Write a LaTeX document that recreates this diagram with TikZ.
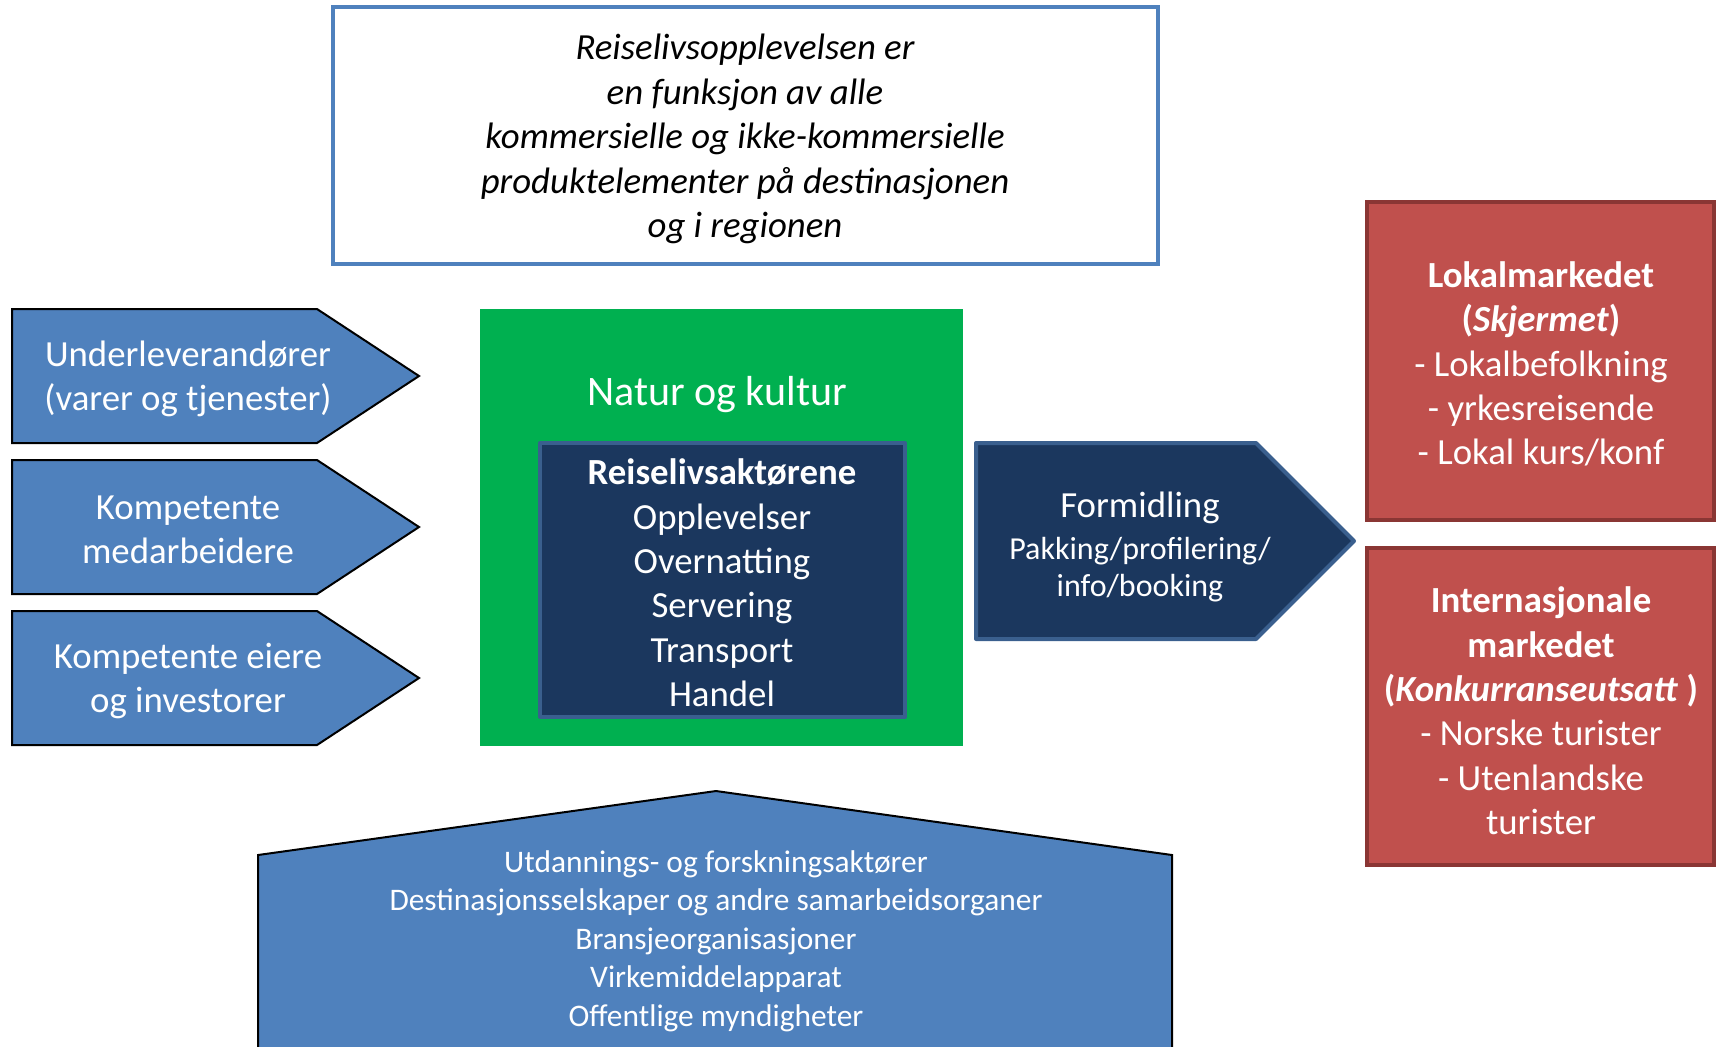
\documentclass[tikz,border=0pt]{standalone}
\usepackage{fontspec}
\setmainfont{Carlito}
\usetikzlibrary{positioning}

\definecolor{pilblaa}{HTML}{4F81BD}
\definecolor{gronn}{HTML}{00B050}
\definecolor{marine}{HTML}{1B375E}
\definecolor{marinekant}{HTML}{3A5F8E}
\definecolor{roed}{HTML}{C0504D}
\definecolor{roedkant}{HTML}{8A3634}

\newcommand{\storskrift}{\fontsize{18.4}{22.2}\selectfont}
\newcommand{\smaaskrift}{\fontsize{15.7}{19.2}\selectfont}

\begin{document}
\begin{tikzpicture}[
    x=0.5pt, y=-0.5pt,
    tekst/.style={align=center, text=white, font=\storskrift, inner sep=0pt, yshift=-1.5pt},
    pil/.style={fill=pilblaa, draw=black, line width=1pt},
    aktor/.style={fill=marine, draw=marinekant, line width=2pt, line join=round},
    marked/.style={fill=roed, draw=roedkant, line width=2.2pt}
]
    \useasboundingbox (0,0) rectangle (1716,1046);
    \clip (0,0) rectangle (1716,1046);

    % innledende tekst
    \draw[draw=pilblaa, line width=2pt, fill=white] (333,7) rectangle (1158,264);
    \node[tekst, text=black, font=\storskrift\itshape] (intro) at (745,136)
        {Reiselivsopplevelsen er\\en funksjon av alle\\kommersielle og ikke-kommersielle\\produktelementer på destinasjonen\\og i regionen};

    % leverandoerer til venstre
    \foreach \navn/\y/\tekstinn in {lev/309/{Underleverandører\\(varer og tjenester)},
                                    komp/460/{Kompetente\\medarbeidere},
                                    eier/611/{Kompetente eiere\\og investorer}} {
        \filldraw[pil] (12,\y) -- ++(305,0) -- ++(102,67) -- ++(-102,67) -- ++(-305,0) -- cycle;
        \node[tekst] (\navn) at (188,\y+67) {\tekstinn};
    }

    % natur og kultur med aktoerene
    \fill[gronn] (480,309) rectangle (963,746);
    \node[tekst, font=\fontsize{21}{25}\selectfont] (natur) at (717,392) {Natur og kultur};
    \filldraw[aktor] (540,443) rectangle (905,717);
    \node[tekst] (aktorer) at (722,580)
        {\textbf{Reiselivsaktørene}\\Opplevelser\\Overnatting\\Servering\\Transport\\Handel};

    % formidling
    \filldraw[aktor] (976,443) -- (1256,443) -- (1354,541) -- (1256,639) -- (976,639) -- cycle;
    \node[tekst, font=\fontsize{16}{18.5}\selectfont] (formidling) at (1140,544)
        {{\storskrift Formidling}\\[2.2pt]Pakking/profilering/\\info/booking};

    % markedene
    \filldraw[marked] (1367,202) rectangle (1714,520);
    \node[tekst] (lokal) at (1541,361)
        {\textbf{Lokalmarkedet}\\\textbf{(\textit{Skjermet})}\\- Lokalbefolkning\\- yrkesreisende\\- Lokal kurs/konf};
    \filldraw[marked] (1367,548) rectangle (1714,865);
    \node[tekst] (internasjonal) at (1541,708)
        {\textbf{Internasjonale}\\\textbf{markedet}\\\textbf{(\textit{Konkurranseutsatt} )}\\- Norske turister\\- Utenlandske\\turister};

    % stoetteaktoerer nederst
    \filldraw[pil] (258,1060) -- (258,855) -- (716,791) -- (1172,855) -- (1172,1060) -- cycle;
    \node[tekst, font=\smaaskrift] (stotte) at (716,938)
        {Utdannings- og forskningsaktører\\Destinasjonsselskaper og andre samarbeidsorganer\\Bransjeorganisasjoner\\Virkemiddelapparat\\Offentlige myndigheter};
\end{tikzpicture}
\end{document}
